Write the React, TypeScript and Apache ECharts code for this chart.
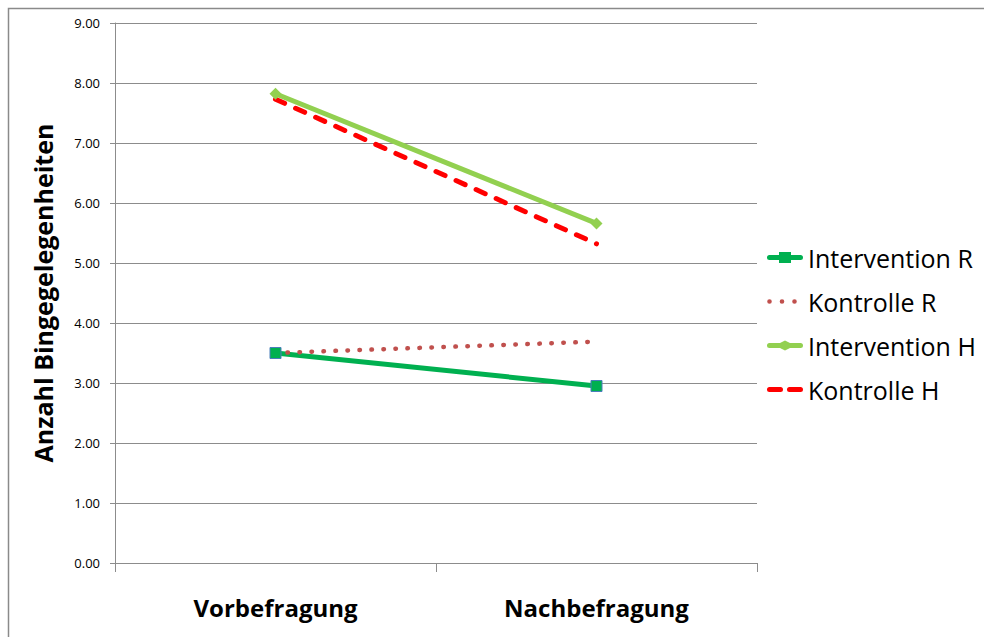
import React, { useEffect, useRef } from "react";
import * as echarts from "echarts";

const categories = ["Vorbefragung", "Nachbefragung"];
const seriesNames = ["Intervention R", "Kontrolle R", "Intervention H", "Kontrolle H"];
const interventionR = [3.5, 2.95];
const kontrolleR = [3.5, 3.69];
const interventionH = [7.82, 5.66];
const kontrolleH = [7.73, 5.32];
const yAxisTitle = "Anzahl Bingegelegenheiten";

const FONT = "'Open Sans', 'Noto Sans', sans-serif";
const GRID_COLOR = "#8c8c8c";

const BOX = "M0,0 M36,14 ";
const ICON_IR =
  "path://" + BOX +
  "M2.5,4.5 L12,4.5 L12,1.5 L24,1.5 L24,4.5 L33.5,4.5 A2.5,2.5 0 0 1 33.5,9.5 L24,9.5 L24,12.5 L12,12.5 L12,9.5 L2.5,9.5 A2.5,2.5 0 0 1 2.5,4.5 Z";
const dot = (cx: number) =>
  `M${cx - 2.3},7 A2.3,2.3 0 1 0 ${cx + 2.3},7 A2.3,2.3 0 1 0 ${cx - 2.3},7 Z `;
const ICON_KR = "path://" + BOX + dot(2.5) + dot(15) + dot(27.5);
const ICON_IH =
  "path://" + BOX +
  "M2.5,4.5 L13,4.5 L18,2 L23,4.5 L33.5,4.5 A2.5,2.5 0 0 1 33.5,9.5 L23,9.5 L18,12 L13,9.5 L2.5,9.5 A2.5,2.5 0 0 1 2.5,4.5 Z";
const ICON_KH =
  "path://" + BOX +
  "M2.5,4.5 L13.5,4.5 A2.5,2.5 0 0 1 13.5,9.5 L2.5,9.5 A2.5,2.5 0 0 1 2.5,4.5 Z " +
  "M22.5,4.5 L33.5,4.5 A2.5,2.5 0 0 1 33.5,9.5 L22.5,9.5 A2.5,2.5 0 0 1 22.5,4.5 Z";

export default function App() {
  const ref = useRef<HTMLDivElement>(null);
  useEffect(() => {
    if (!ref.current) return;
    const chart = echarts.init(ref.current, null, { renderer: "svg" });
    chart.setOption({
      animation: false,
      backgroundColor: "#ffffff",
      textStyle: { fontFamily: FONT },
      graphic: [
        {
          type: "rect",
          shape: { x: 8.5, y: 8.5, width: 1100, height: 800 },
          style: { fill: "none", stroke: "#8a8a8a", lineWidth: 1.5 },
          silent: true,
        },
      ],
      grid: { left: 115, top: 23, right: 227, bottom: 74, containLabel: false },
      legend: {
        orient: "vertical",
        left: 762,
        top: 240,
        itemWidth: 36,
        itemHeight: 14,
        itemGap: 19,
        data: [
          { name: seriesNames[0], icon: ICON_IR, itemStyle: { color: "#00B050", borderWidth: 0 } },
          { name: seriesNames[1], icon: ICON_KR, itemStyle: { color: "#C0504D", borderWidth: 0 } },
          { name: seriesNames[2], icon: ICON_IH, itemStyle: { color: "#92D050", borderWidth: 0 } },
          { name: seriesNames[3], icon: ICON_KH, itemStyle: { color: "#FF0000", borderWidth: 0 } },
        ],
        textStyle: { fontFamily: FONT, fontSize: 25, color: "#000000" },
      },
      xAxis: {
        type: "category",
        data: categories,
        boundaryGap: true,
        axisLine: { lineStyle: { color: GRID_COLOR, width: 1 } },
        axisTick: { show: true, length: 9, alignWithLabel: false, lineStyle: { color: GRID_COLOR } },
        axisLabel: {
          fontFamily: FONT,
          fontSize: 24,
          fontWeight: "bold",
          color: "#000000",
          margin: 32,
        },
        splitLine: { show: false },
      },
      yAxis: {
        type: "value",
        min: 0,
        max: 9,
        interval: 1,
        name: yAxisTitle,
        nameLocation: "middle",
        nameRotate: 90,
        nameGap: 60,
        nameTextStyle: { fontFamily: FONT, fontSize: 25, fontWeight: "bold", color: "#000000" },
        axisLine: { show: true, lineStyle: { color: GRID_COLOR, width: 1 } },
        axisTick: { show: true, length: 5, lineStyle: { color: GRID_COLOR } },
        axisLabel: {
          fontFamily: FONT,
          fontSize: 13,
          color: "#000000",
          margin: 15,
          formatter: (v: number) => v.toFixed(2),
        },
        splitLine: { show: true, lineStyle: { color: GRID_COLOR, width: 1 } },
      },
      series: [
        {
          name: seriesNames[0],
          type: "line",
          data: interventionR,
          symbol: "rect",
          symbolSize: 11,
          lineStyle: { color: "#00B050", width: 5 },
          itemStyle: { color: "#00B050", borderColor: "#4a7ebb", borderWidth: 1 },
        },
        {
          name: seriesNames[1],
          type: "line",
          data: kontrolleR,
          symbol: "none",
          lineStyle: { color: "#C0504D", width: 4.5, type: [0.5, 11.5], cap: "round" },
          itemStyle: { color: "#C0504D" },
        },
        {
          name: seriesNames[2],
          type: "line",
          data: interventionH,
          symbol: "diamond",
          symbolSize: 12,
          lineStyle: { color: "#92D050", width: 5 },
          itemStyle: { color: "#92D050" },
        },
        {
          name: seriesNames[3],
          type: "line",
          data: kontrolleH,
          symbol: "none",
          lineStyle: { color: "#FF0000", width: 5, type: [10, 12], cap: "round" },
          itemStyle: { color: "#FF0000" },
        },
      ],
    });
    return () => chart.dispose();
  }, []);
  return (
    <div
      ref={ref}
      style={{ position: "fixed", left: 0, top: 0, width: 984, height: 637 }}
    />
  );
}
